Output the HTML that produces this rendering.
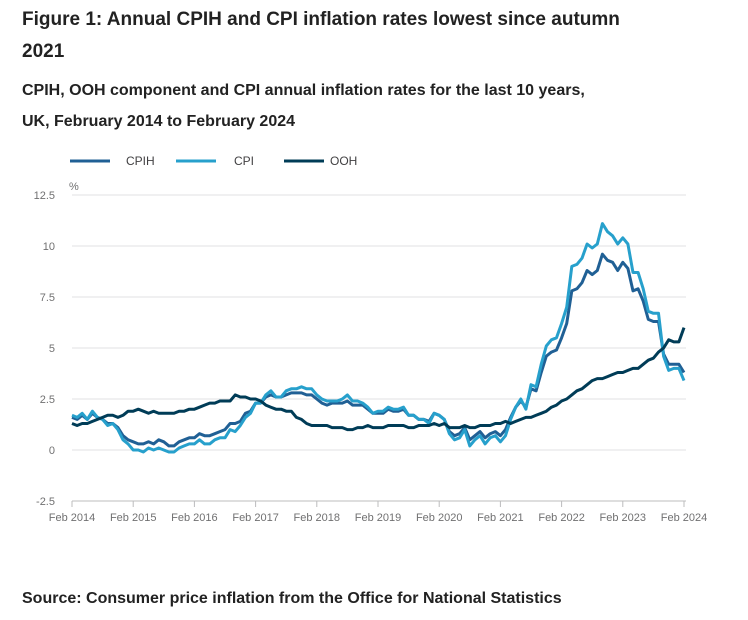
<!DOCTYPE html>
<html><head><meta charset="utf-8">
<style>
body{margin:0;background:#fff;font-family:"Liberation Sans",sans-serif;color:#222;}
.wrap{position:relative;width:748px;height:620px;overflow:hidden;}
h1{position:absolute;left:22px;top:4px;margin:0;font-size:19px;line-height:32px;font-weight:bold;width:640px;}
h2{position:absolute;left:22px;top:75px;margin:0;font-size:16px;line-height:31px;font-weight:bold;width:590px;}
.src{position:absolute;left:22px;top:590px;font-size:16px;font-weight:bold;}
svg{position:absolute;left:0;top:0;}
</style></head><body>
<div class="wrap">
<h1>Figure 1: Annual CPIH and CPI inflation rates lowest since autumn 2021</h1>
<h2>CPIH, OOH component and CPI annual inflation rates for the last 10 years, UK, February 2014 to February 2024</h2>
<svg id="chart" width="748" height="620"></svg>
<div class="src">Source: Consumer price inflation from the Office for National Statistics</div>
</div>
<script>
const yTicks=[-2.5,0,2.5,5,7.5,10,12.5];
const yTickLabels=["-2.5","0","2.5","5","7.5","10","12.5"];
const xTickLabels=["Feb 2014","Feb 2015","Feb 2016","Feb 2017","Feb 2018","Feb 2019","Feb 2020","Feb 2021","Feb 2022","Feb 2023","Feb 2024"];
const seriesNames=["CPIH","CPI","OOH"];
const cpih=[1.6,1.5,1.7,1.5,1.8,1.6,1.5,1.3,1.3,1.1,0.7,
0.5,0.4,0.3,0.3,0.4,0.3,0.5,0.4,0.2,0.2,0.4,0.5,
0.6,0.6,0.8,0.7,0.7,0.8,0.9,1.0,1.3,1.3,1.4,1.8,
1.9,2.3,2.3,2.6,2.7,2.6,2.6,2.7,2.8,2.8,2.8,2.7,
2.7,2.5,2.3,2.2,2.3,2.3,2.3,2.4,2.2,2.2,2.2,2.0,
1.8,1.8,1.8,2.0,1.9,1.9,2.0,1.7,1.7,1.5,1.5,1.4,
1.8,1.7,1.5,0.9,0.7,0.8,1.1,0.5,0.7,0.9,0.6,0.8,
0.9,0.7,1.0,1.6,2.1,2.4,2.1,3.0,2.9,3.8,4.6,4.8,
4.9,5.5,6.2,7.8,7.9,8.2,8.8,8.6,8.8,9.6,9.3,9.2,
8.8,9.2,8.9,7.8,7.9,7.3,6.4,6.3,6.3,4.7,4.2,4.2,
4.2,3.8];
const cpi=[1.7,1.6,1.8,1.5,1.9,1.6,1.5,1.2,1.3,1.0,0.5,
0.3,0.0,0.0,-0.1,0.1,0.0,0.1,0.0,-0.1,-0.1,0.1,0.2,
0.3,0.3,0.5,0.3,0.3,0.5,0.6,0.6,1.0,0.9,1.2,1.6,
1.8,2.3,2.3,2.7,2.9,2.6,2.6,2.9,3.0,3.0,3.1,3.0,
3.0,2.7,2.5,2.4,2.4,2.4,2.5,2.7,2.4,2.4,2.3,2.1,
1.8,1.9,1.9,2.1,2.0,2.0,2.1,1.7,1.7,1.5,1.5,1.3,
1.8,1.7,1.5,0.8,0.5,0.6,1.0,0.2,0.5,0.7,0.3,0.6,
0.7,0.4,0.7,1.5,2.1,2.5,2.0,3.2,3.1,4.2,5.1,5.4,
5.5,6.2,7.0,9.0,9.1,9.4,10.1,9.9,10.1,11.1,10.7,10.5,
10.1,10.4,10.1,8.7,8.7,7.9,6.8,6.7,6.7,4.6,3.9,4.0,
4.0,3.4];
const ooh=[1.3,1.2,1.3,1.3,1.4,1.5,1.6,1.7,1.7,1.6,1.7,
1.9,1.9,2.0,1.9,1.8,1.9,1.8,1.8,1.8,1.8,1.9,1.9,
2.0,2.0,2.1,2.2,2.3,2.3,2.4,2.4,2.4,2.7,2.6,2.6,
2.5,2.5,2.4,2.2,2.1,2.0,2.0,1.9,1.9,1.6,1.5,1.3,
1.2,1.2,1.2,1.2,1.1,1.1,1.1,1.0,1.0,1.1,1.1,1.2,
1.1,1.1,1.1,1.2,1.2,1.2,1.2,1.1,1.1,1.2,1.2,1.2,
1.3,1.2,1.3,1.1,1.1,1.1,1.2,1.1,1.1,1.2,1.2,1.2,
1.3,1.3,1.4,1.3,1.4,1.5,1.6,1.6,1.7,1.8,1.9,2.1,
2.2,2.4,2.5,2.7,2.9,3.0,3.2,3.4,3.5,3.5,3.6,3.7,
3.8,3.8,3.9,4.0,4.0,4.2,4.4,4.5,4.8,5.0,5.4,5.3,
5.3,6.0];
const colors=["#206095","#27a0cc","#003c57"];
const svg=document.getElementById('chart');
const NS="http://www.w3.org/2000/svg";
const L=72,R=684,Y0=450,PX=20.4;
function x(i){return L+(R-L)*i/120;}
function y(v){return Y0-v*PX;}
function mk(t,a){const e=document.createElementNS(NS,t);for(const k in a)e.setAttribute(k,a[k]);svg.appendChild(e);return e;}
yTicks.forEach((v,i)=>{
 const g=mk('line',{x1:L,x2:R+2,y1:y(v),y2:y(v),stroke:i==0?'#bcbcbd':'#e2e2e3','stroke-width':1});
 
 
 const t=mk('text',{x:55,y:y(v)+4,'text-anchor':'end','font-size':11,fill:'#707071'});
 t.textContent=yTickLabels[i];
 
 
});
xTickLabels.forEach((s,i)=>{
 const px=x(i*12);
 const tk=mk('line',{x1:px,x2:px,y1:y(-2.5),y2:y(-2.5)+6,stroke:'#bcbcbd'});
 
 
 const t=mk('text',{x:px,y:521,'text-anchor':'middle','font-size':11,fill:'#707071'});
 t.textContent=s;
 
 
});
const pu=mk('text',{x:69,y:190,'font-size':11,fill:'#707071'});
pu.textContent='%';


[cpih,cpi,ooh].forEach((d,s)=>{
 const p=mk('path',{d:d.map((v,i)=>(i?'L':'M')+x(i).toFixed(1)+' '+y(v).toFixed(1)).join(''),fill:'none',stroke:colors[s],'stroke-width':3,'stroke-linejoin':'round'});
 
 
});
const lx=[70,176,284];
const ltx=[126,234,330];
seriesNames.forEach((n,i)=>{
 const l=mk('line',{x1:lx[i],x2:lx[i]+40,y1:161,y2:161,stroke:colors[i],'stroke-width':3});
 
 
 const t=mk('text',{x:ltx[i],y:165,'font-size':12,fill:'#414042'});
 t.textContent=n;
 
 
});
</script>
</body></html>
